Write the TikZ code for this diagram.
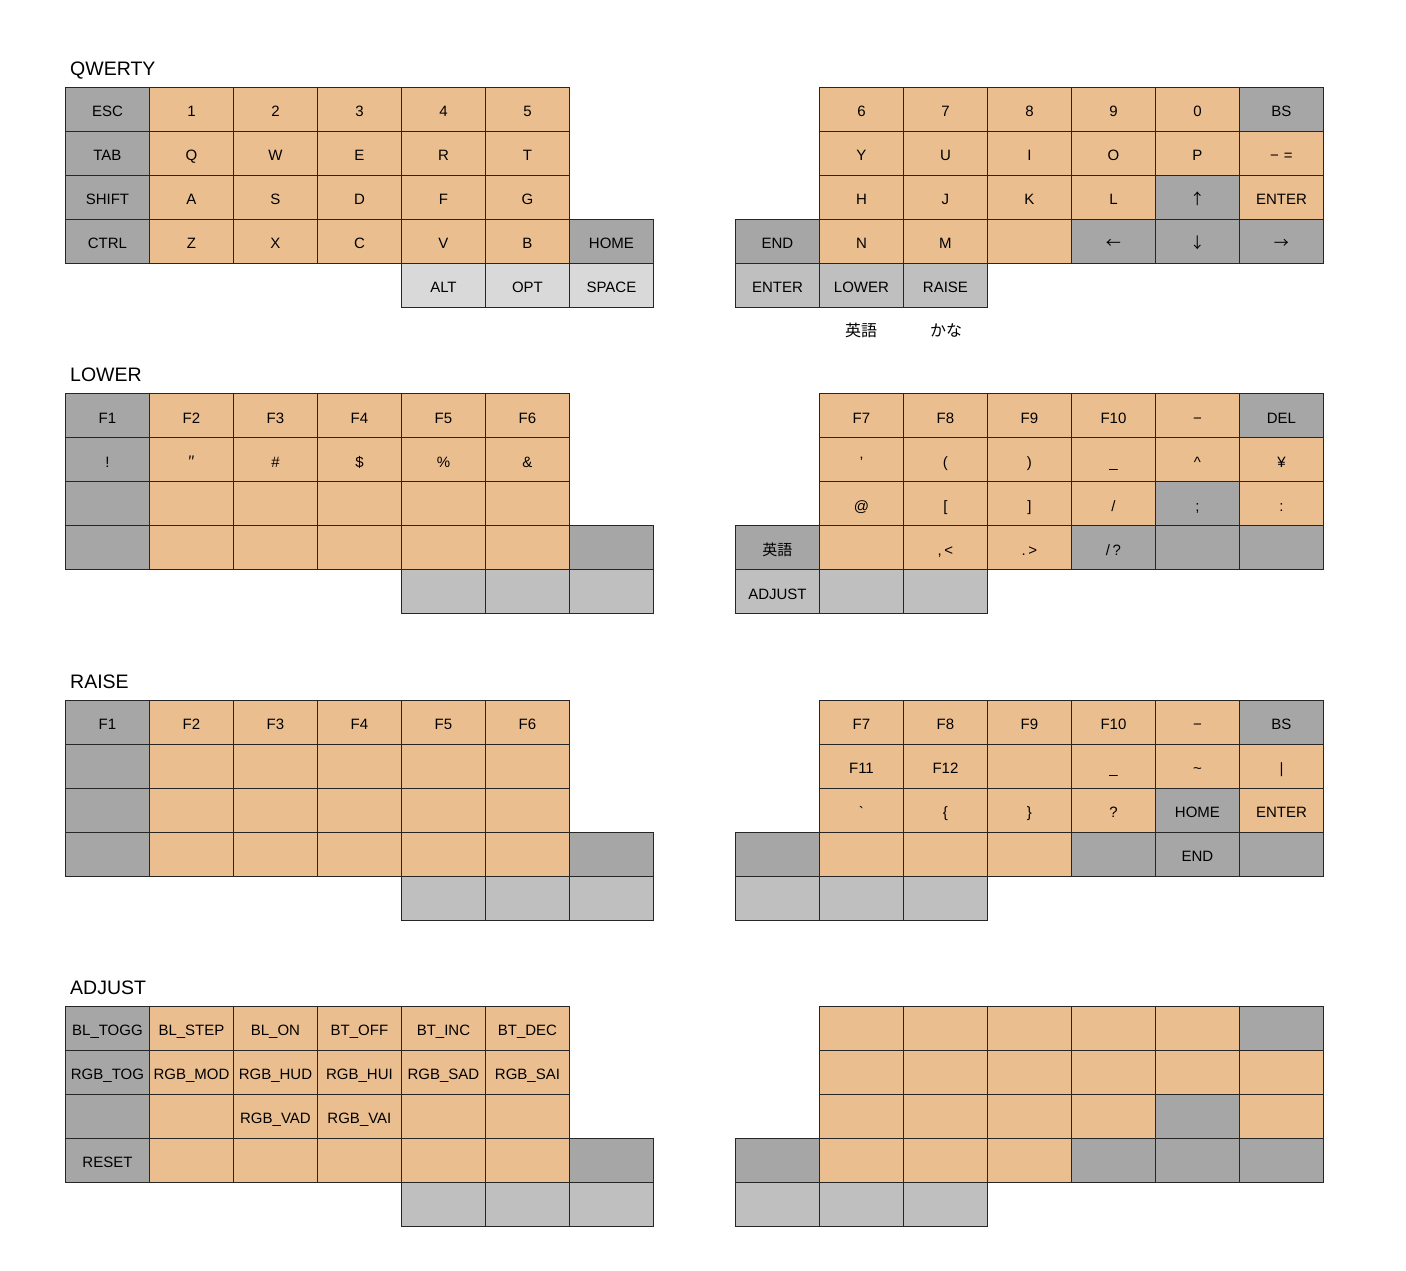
\documentclass[tikz,border=0pt]{standalone}
\usepackage{fontspec}
\setmainfont{Liberation Sans}
\newfontfamily\jp{Noto Sans CJK JP}
\definecolor{keyorange}{RGB}{235,190,144}
\definecolor{keygray}{RGB}{166,166,166}
\definecolor{keythumb}{RGB}{191,191,191}
\definecolor{keylight}{RGB}{217,217,217}
\tikzset{
  key/.style={draw=black!85, line width=0.9pt, rectangle, anchor=north west,
    minimum width=84pt, minimum height=44pt, inner sep=0pt,
    text height=15pt, text depth=0pt,
    font=\fontsize{15}{18}\selectfont},
  ko/.style={fill=keyorange},
  kg/.style={fill=keygray},
  kt/.style={fill=keythumb},
  kw/.style={fill=keylight},
  layername/.style={anchor=base west, inner sep=0pt, font=\fontsize{19.5}{22}\selectfont},
  jpnote/.style={inner sep=0pt, font=\jp\fontsize{16}{18}\selectfont},
}
% one row of keys: name prefix, left x, top y, list of style/label
\newcommand\krow[4]{%
  \foreach \ks/\kt [count=\ki from 0] in {#4}{%
    \node[key,\ks] (#1\ki) at ({#2+84*\ki},#3) {\kt};}}
\newcommand\sy[1]{{\jp #1}}
\begin{document}
\begin{tikzpicture}[x=1pt,y=-1pt]
\useasboundingbox (0,0) rectangle (1406,1270);

% ---------------- QWERTY ----------------
\node[layername] (qwertyname) at (70,75) {QWERTY};
\krow{qwLa}{65}{87}{kg/ESC,ko/1,ko/2,ko/3,ko/4,ko/5}
\krow{qwLb}{65}{131}{kg/TAB,ko/Q,ko/W,ko/E,ko/R,ko/T}
\krow{qwLc}{65}{175}{kg/SHIFT,ko/A,ko/S,ko/D,ko/F,ko/G}
\krow{qwLd}{65}{219}{kg/CTRL,ko/Z,ko/X,ko/C,ko/V,ko/B,kg/HOME}
\krow{qwLe}{401}{263}{kw/ALT,kw/OPT,kw/SPACE}
\krow{qwRa}{819}{87}{ko/6,ko/7,ko/8,ko/9,ko/0,kg/BS}
\krow{qwRb}{819}{131}{ko/Y,ko/U,ko/I,ko/O,ko/P,ko/{−\,\,=}}
\krow{qwRc}{819}{175}{ko/H,ko/J,ko/K,ko/L,kg/\sy{↑},ko/ENTER}
\krow{qwRd}{735}{219}{kg/END,ko/N,ko/M,ko/{},kg/\sy{←},kg/\sy{↓},kg/\sy{→}}
\krow{qwRe}{735}{263}{kt/ENTER,kt/LOWER,kt/RAISE}
\node[jpnote] (eigo) at (861,330) {英語};
\node[jpnote] (kana) at (946,330) {かな};

% ---------------- LOWER ----------------
\node[layername] (lowername) at (70,381.5) {LOWER};
\krow{loLa}{65}{393.33}{kg/F1,ko/F2,ko/F3,ko/F4,ko/F5,ko/F6}
\krow{loLb}{65}{437.33}{kg/!,ko/\sy{″},ko/\#,ko/\$,ko/\%,ko/\&}
\krow{loLc}{65}{481.33}{kg/{},ko/{},ko/{},ko/{},ko/{},ko/{}}
\krow{loLd}{65}{525.33}{kg/{},ko/{},ko/{},ko/{},ko/{},ko/{},kg/{}}
\krow{loLe}{401}{569.33}{kt/{},kt/{},kt/{}}
\krow{loRa}{819}{393.33}{ko/F7,ko/F8,ko/F9,ko/F10,ko/−,kg/DEL}
\krow{loRb}{819}{437.33}{ko/',ko/(,ko/),ko/\_,ko/\textasciicircum,ko/¥}
\krow{loRc}{819}{481.33}{ko/@,ko/{[},ko/{]},ko/{/},kg/;,ko/:}
\krow{loRd}{735}{525.33}{kg/\sy{英語},ko/{},ko/{,\,<},ko/{.\,>},kg/{/\,?},kg/{},kg/{}}
\krow{loRe}{735}{569.33}{kt/ADJUST,kt/{},kt/{}}

% ---------------- RAISE ----------------
\node[layername] (raisename) at (70,688) {RAISE};
\krow{raLa}{65}{699.67}{kg/F1,ko/F2,ko/F3,ko/F4,ko/F5,ko/F6}
\krow{raLb}{65}{743.67}{kg/{},ko/{},ko/{},ko/{},ko/{},ko/{}}
\krow{raLc}{65}{787.67}{kg/{},ko/{},ko/{},ko/{},ko/{},ko/{}}
\krow{raLd}{65}{831.67}{kg/{},ko/{},ko/{},ko/{},ko/{},ko/{},kg/{}}
\krow{raLe}{401}{875.67}{kt/{},kt/{},kt/{}}
\krow{raRa}{819}{699.67}{ko/F7,ko/F8,ko/F9,ko/F10,ko/−,kg/BS}
\krow{raRb}{819}{743.67}{ko/F11,ko/F12,ko/{},ko/\_,ko/\textasciitilde,ko/|}
\krow{raRc}{819}{787.67}{ko/\textasciigrave,ko/\{,ko/\},ko/?,kg/HOME,ko/ENTER}
\krow{raRd}{735}{831.67}{kg/{},ko/{},ko/{},ko/{},kg/{},kg/END,kg/{}}
\krow{raRe}{735}{875.67}{kt/{},kt/{},kt/{}}

% ---------------- ADJUST ----------------
\node[layername] (adjustname) at (70,994) {ADJUST};
\krow{adLa}{65}{1006}{kg/BL\_TOGG,ko/BL\_STEP,ko/BL\_ON,ko/BT\_OFF,ko/BT\_INC,ko/BT\_DEC}
\krow{adLb}{65}{1050}{kg/RGB\_TOG,ko/RGB\_MOD,ko/RGB\_HUD,ko/RGB\_HUI,ko/RGB\_SAD,ko/RGB\_SAI}
\krow{adLc}{65}{1094}{kg/{},ko/{},ko/RGB\_VAD,ko/RGB\_VAI,ko/{},ko/{}}
\krow{adLd}{65}{1138}{kg/RESET,ko/{},ko/{},ko/{},ko/{},ko/{},kg/{}}
\krow{adLe}{401}{1182}{kt/{},kt/{},kt/{}}
\krow{adRa}{819}{1006}{ko/{},ko/{},ko/{},ko/{},ko/{},kg/{}}
\krow{adRb}{819}{1050}{ko/{},ko/{},ko/{},ko/{},ko/{},ko/{}}
\krow{adRc}{819}{1094}{ko/{},ko/{},ko/{},ko/{},kg/{},ko/{}}
\krow{adRd}{735}{1138}{kg/{},ko/{},ko/{},ko/{},kg/{},kg/{},kg/{}}
\krow{adRe}{735}{1182}{kt/{},kt/{},kt/{}}
\end{tikzpicture}
\end{document}
